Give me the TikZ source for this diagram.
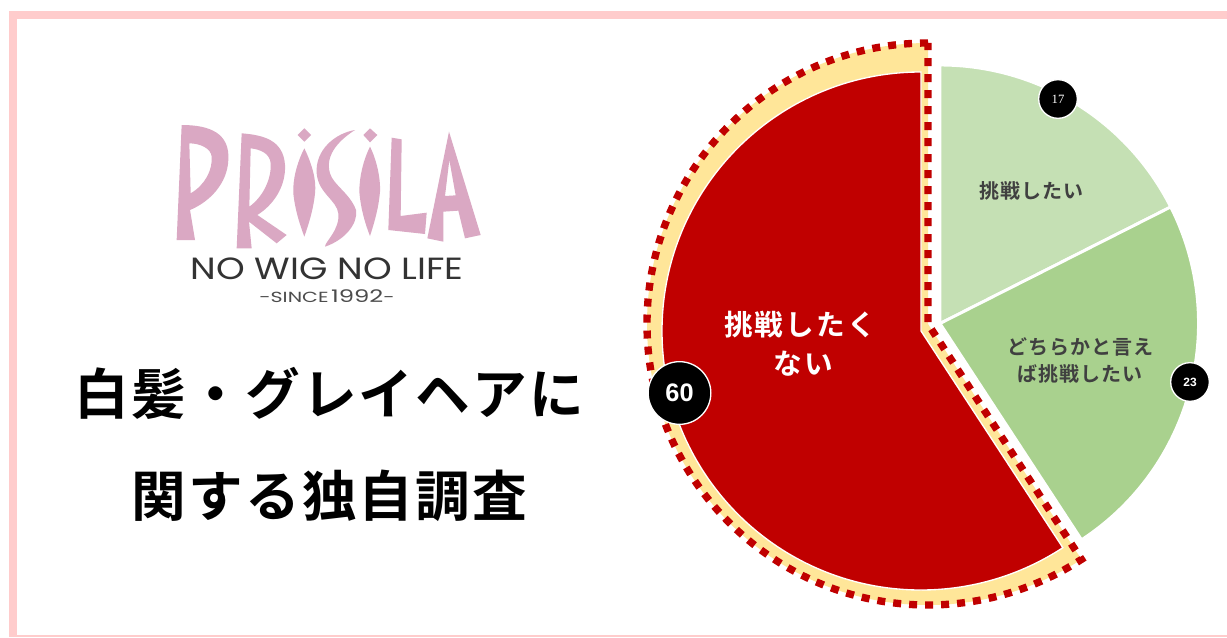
\documentclass[tikz,border=0pt]{standalone}
\usepackage{fontspec}
\newfontfamily\cjktitle[LetterSpace=4]{Noto Sans CJK JP Bold}
\newfontfamily\cjklabel[LetterSpace=5]{Noto Sans CJK JP Bold}
\newfontfamily\cjkbig[LetterSpace=7.5]{Noto Sans CJK JP Bold}
\newfontfamily\logofont[FakeStretch=1.19]{Poppins}
\newfontfamily\sincefont[FakeStretch=1.4]{Poppins}
\newfontfamily\badgeserif{Liberation Serif}
\setmainfont{Liberation Sans}
\definecolor{frame}{HTML}{FFCCCC}
\definecolor{lightgreen}{HTML}{C5E0B4}
\definecolor{midgreen}{HTML}{A9D18E}
\definecolor{deepred}{HTML}{C00000}
\definecolor{sand}{HTML}{FFE699}
\definecolor{logopink}{HTML}{DAA8C3}
\definecolor{labelgray}{HTML}{404040}
\tikzset{
  slice/.style={draw=white,line width=2.2pt},
  badge/.style={circle,fill=black,draw=white,line width=1pt,text=white,inner sep=0pt,font=\fontsize{9}{9}\selectfont\bfseries},
  titletext/.style={font=\cjktitle\fontsize{41}{41}\selectfont,text=black,inner sep=0pt,anchor=center},
  pielabel/.style={font=\cjklabel\fontsize{15}{15}\selectfont,text=labelgray,inner sep=0pt,anchor=center},
  biglabel/.style={font=\cjkbig\fontsize{21.5}{21.5}\selectfont,text=white,inner sep=0pt,anchor=center},
  logoshape/.style={fill=logopink,draw=none,even odd rule},
}
\begin{document}
\begin{tikzpicture}[x=0.75pt,y=0.75pt]
\useasboundingbox (0,0) rectangle (1227,637);
\fill[white] (0,0) rectangle (1227,637);
% frame
\draw[frame,line width=6pt] (13,0) -- (13,622) -- (1240,622);
\fill[frame] (9,0) rectangle (1227,2);
% pie coordinates
\coordinate (gc) at (940,313.5);
\coordinate (rc) at (921,306);
\coordinate (yc) at (928,313);
% yellow sector
\fill[sand] (yc) -- ++(90:281) arc[start angle=90,end angle=303.1,radius=281] -- cycle;
\draw[deepred,line width=5.5pt,dash pattern=on 6pt off 6pt]
  (yc) ++(90:281) arc[start angle=90,end angle=303.1,radius=281] -- (yc) -- cycle;
% red sector
\fill[deepred,draw=white,line width=1pt] (rc) -- ++(90:259) arc[start angle=90,end angle=303.2,radius=259] -- cycle;
% green sectors
\fill[lightgreen,slice] (gc) -- ++(90:258.5) arc[start angle=90,end angle=26.8,radius=258.5] -- cycle;
\fill[midgreen,slice] (gc) -- ++(26.8:258.5) arc[start angle=26.8,end angle=-56.8,radius=258.5] -- cycle;
% logo
\begin{scope}[shift={(150,527)},x=0.25pt,y=-0.25pt]
\fill[logoshape] (95,45) .. controls (180,45) and (240,70) .. (235,150) .. controls (232,220) and (180,275) .. (120,300) -- (135,390) -- (80,390) -- cycle
  (118,100) -- (122,250) .. controls (165,225) and (188,180) .. (185,140) .. controls (183,115) and (150,100) .. (118,100) -- cycle;
\fill[logoshape] (275,70) .. controls (340,75) and (400,90) .. (405,165) .. controls (408,230) and (370,285) .. (322,315) -- (410,375) -- (380,400) -- (297,335) -- (305,415) -- (260,415) -- cycle
  (302,115) -- (298,290) .. controls (340,260) and (365,205) .. (362,160) .. controls (360,130) and (330,118) .. (302,115) -- cycle;
\fill[logoshape] (463,55) -- (483,75) -- (463,95) -- (443,75) -- cycle;
\fill[logoshape] (463,115) .. controls (485,160) and (500,210) .. (495,250) .. controls (490,300) and (475,345) .. (463,380) .. controls (450,345) and (435,300) .. (430,250) .. controls (428,210) and (440,160) .. (463,115) -- cycle;
\fill[logoshape] (615,60) .. controls (560,95) and (525,140) .. (540,190) .. controls (550,225) and (600,250) .. (618,300) .. controls (625,340) and (585,390) .. (525,410) .. controls (525,395) and (570,360) .. (565,310) .. controls (560,270) and (505,250) .. (500,190) .. controls (495,120) and (555,70) .. (615,60) -- cycle;
\fill[logoshape] (660,55) -- (682,75) -- (660,97) -- (640,75) -- cycle;
\fill[logoshape] (660,110) .. controls (680,150) and (692,205) .. (690,245) .. controls (685,300) and (672,340) .. (660,378) .. controls (645,340) and (632,295) .. (628,245) .. controls (628,200) and (640,150) .. (660,110) -- cycle;
\fill[logoshape] (725,83) -- (755,88) -- (752,318) -- (830,308) -- (825,372) -- (715,360) -- cycle;
\fill[logoshape] (897,65) -- (992,375) -- (945,385) -- (925,302) -- (880,305) -- (880,395) -- (832,385) -- cycle
  (898,150) -- (885,258) -- (917,256) -- cycle;
\end{scope}
\node[inner sep=0pt,text=black!80] (tagline) at (327,368) {\logofont\fontsize{23}{23}\selectfont NO WIG NO LIFE};
\node[inner sep=0pt,text=black!70] (since) at (327,341) {\sincefont\fontsize{11}{11}\selectfont -SINCE\,\fontsize{13}{13}\selectfont 1992\fontsize{11}{11}\selectfont -};
% title
\node[titletext] (title1) at (329.5,244) {白髪・グレイヘアに};
\node[titletext] (title2) at (329.5,141) {関する独自調査};
% labels
\node[pielabel] (a) at (1031,446) {挑戦したい};
\node[pielabel] (b1) at (1080,290) {どちらかと言え};
\node[pielabel] (b2) at (1080,263) {ば挑戦したい};
\node[biglabel] (c1) at (800,312) {挑戦したく};
\node[biglabel] (c2) at (803,273) {ない};
% badges
\node[badge,minimum size=29pt,font=\badgeserif\fontsize{9.5}{9.5}\selectfont] (n17) at (1058,538) {17};
\node[badge,minimum size=29pt] (n23) at (1190,255) {23};
\node[badge,minimum size=47pt,font=\fontsize{19}{19}\selectfont\bfseries] (n60) at (679.5,244) {60};
\end{tikzpicture}
\end{document}
